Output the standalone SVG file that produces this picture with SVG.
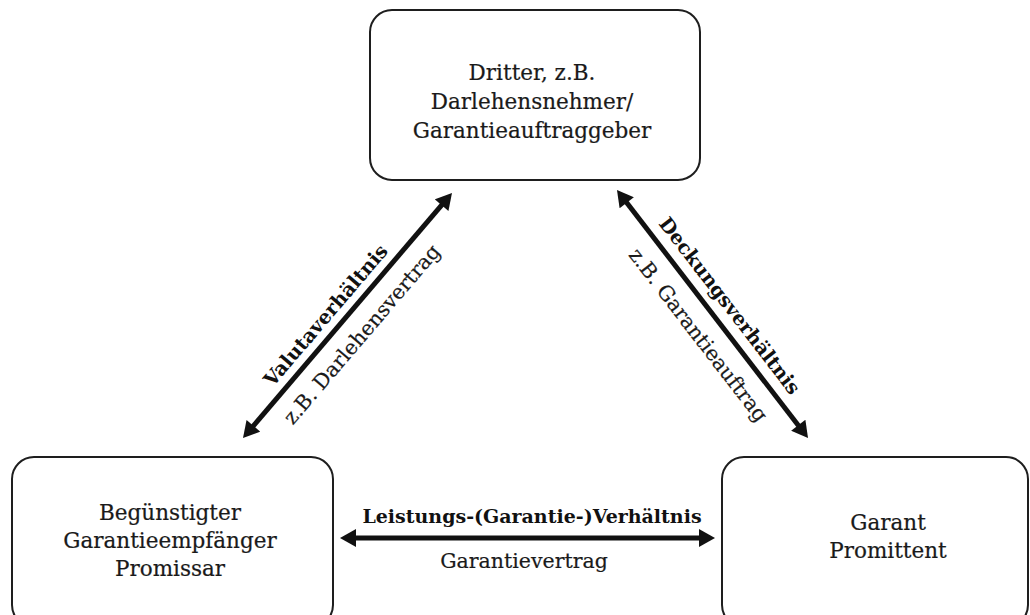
<svg xmlns="http://www.w3.org/2000/svg" width="1030" height="615" viewBox="0 0 1030 615">
  <style>
    .box { fill: #ffffff; stroke: #1e1e1e; stroke-width: 2; }
    .node-text { font-family: "DejaVu Serif", "Liberation Serif", serif; font-size: 21.5px; fill: #1a1a1a; stroke: #1a1a1a; stroke-width: 0.2; text-anchor: middle; }
    .rel { font-family: "DejaVu Serif", "Liberation Serif", serif; font-size: 19.5px; font-weight: bold; fill: #111111; text-anchor: middle; }
    .sub { font-family: "DejaVu Serif", "Liberation Serif", serif; font-size: 20.5px; fill: #1a1a1a; stroke: #1a1a1a; stroke-width: 0.2; text-anchor: middle; }
    .shaft { stroke: #111111; stroke-width: 5; fill: none; marker-start: url(#head); marker-end: url(#head); }
  </style>
  <defs>
    <marker id="head" markerUnits="userSpaceOnUse" markerWidth="18" markerHeight="18" refX="4" refY="9" orient="auto-start-reverse" viewBox="0 0 16 18">
      <path d="M0,0 L16,9 L0,18 Z" fill="#111111"/>
    </marker>
  </defs>
  <rect width="1030" height="615" fill="#ffffff"/>

  <g id="dritter">
    <rect class="box" x="370" y="10" width="330" height="170" rx="22"/>
    <text class="node-text" x="532" y="80">Dritter, z.B.</text>
    <text class="node-text" x="532" y="109">Darlehensnehmer/</text>
    <text class="node-text" x="532" y="138">Garantieauftraggeber</text>
  </g>

  <g id="beguenstigter">
    <rect class="box" x="12" y="457" width="321" height="170" rx="22"/>
    <text class="node-text" x="170" y="520">Begünstigter</text>
    <text class="node-text" x="170" y="548">Garantieempfänger</text>
    <text class="node-text" x="170" y="576">Promissar</text>
  </g>

  <g id="garant">
    <rect class="box" x="722" y="457" width="306" height="170" rx="22"/>
    <text class="node-text" x="888" y="530">Garant</text>
    <text class="node-text" x="888" y="558">Promittent</text>
  </g>

  <g id="connectors">
    <line class="shaft" x1="250.8" y1="428.9" x2="444.2" y2="202.1"/>
    <line class="shaft" x1="624.3" y1="199.5" x2="800.7" y2="428.5"/>
    <line class="shaft" x1="352" y1="538" x2="703" y2="538"/>

    <g transform="translate(347.5,315.5) rotate(-49.5)">
      <text class="rel" x="-14" y="-10">Valutaverhältnis</text>
      <text class="sub" x="-5" y="30">z.B. Darlehensvertrag</text>
    </g>
    <g transform="translate(712.5,314) rotate(52.4)">
      <text class="rel" x="4" y="-12">Deckungsverhältnis</text>
      <text class="sub" x="8" y="31">z.B. Garantieauftrag</text>
    </g>
    <text class="rel" x="532" y="523" style="font-size:19px">Leistungs-(Garantie-)Verhältnis</text>
    <text class="sub" x="524" y="568">Garantievertrag</text>
  </g>
</svg>
